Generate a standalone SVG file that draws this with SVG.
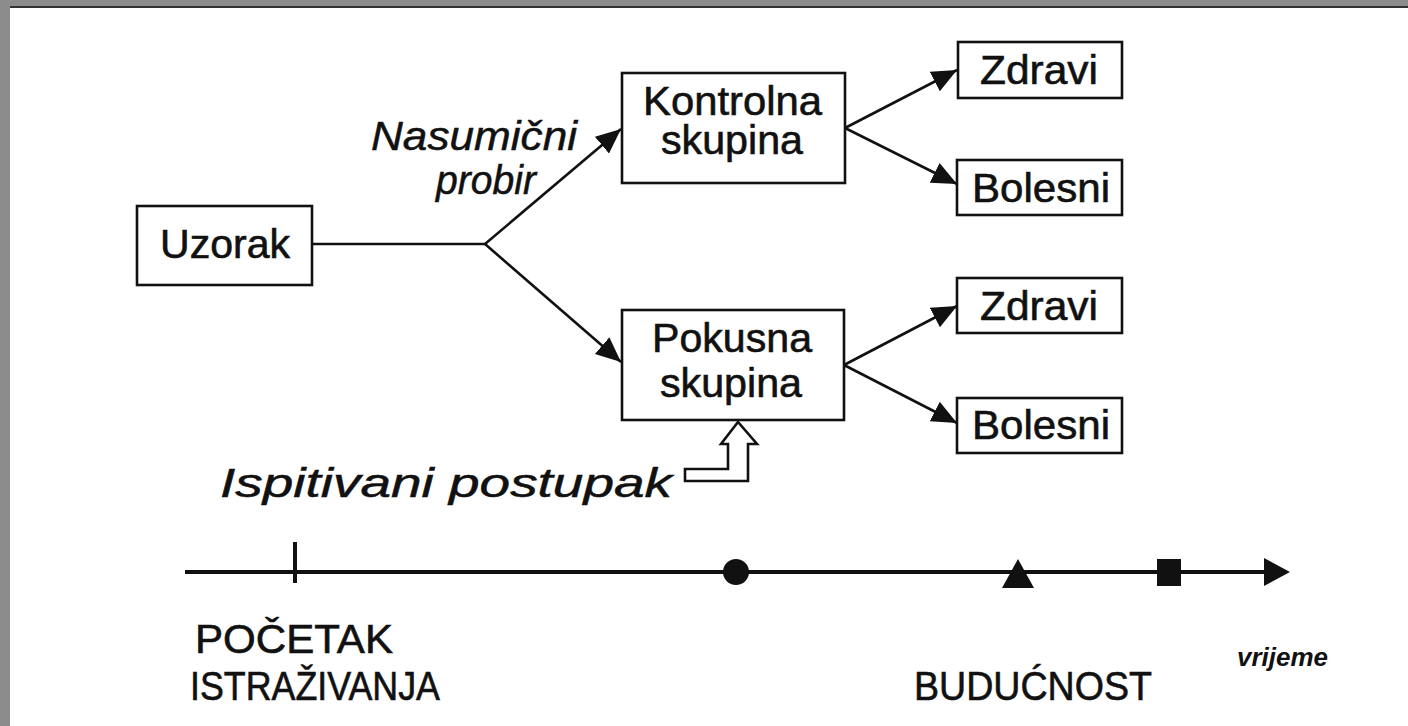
<svg xmlns="http://www.w3.org/2000/svg" width="1408" height="726" viewBox="0 0 1408 726">
  <style>
    .box { fill: #fff; stroke: #111; stroke-width: 2.6; }
    .lbl { font-family: "Liberation Sans", Arial, sans-serif; font-size: 40px; fill: #111; stroke: #111; stroke-width: 0.6; }
    .it { font-family: "Liberation Sans", Arial, sans-serif; font-size: 41px; font-style: italic; fill: #111; stroke: #111; stroke-width: 0.5; }
    .edge { fill: none; stroke: #111; stroke-width: 2.6; }
    .axis { fill: none; stroke: #111; stroke-width: 4; }
  </style>
  <defs>
    <marker id="head" markerUnits="userSpaceOnUse" markerWidth="28" markerHeight="24" refX="25" refY="11" orient="auto">
      <path d="M0,0 L25,11 L0,22 z" fill="#111"/>
    </marker>
  </defs>

  <!-- page background with scanned frame -->
  <rect x="0" y="0" width="1408" height="726" fill="#fff"/>
  <rect x="0" y="0" width="1408" height="6" fill="#8c8c8c"/>
  <rect x="0" y="0" width="10" height="726" fill="#8c8c8c"/>
  <line x1="10" y1="7" x2="1408" y2="7" stroke="#333" stroke-width="2"/>

  <!-- connectors -->
  <g id="connectors">
    <polyline class="edge" points="312,244 485,244"/>
    <line class="edge" x1="485" y1="244" x2="621" y2="129" marker-end="url(#head)"/>
    <line class="edge" x1="485" y1="244" x2="621" y2="362" marker-end="url(#head)"/>
    <line class="edge" x1="845" y1="128" x2="957" y2="70" marker-end="url(#head)"/>
    <line class="edge" x1="845" y1="128" x2="957" y2="184" marker-end="url(#head)"/>
    <line class="edge" x1="844" y1="365" x2="957" y2="306" marker-end="url(#head)"/>
    <line class="edge" x1="844" y1="365" x2="957" y2="423" marker-end="url(#head)"/>
    <!-- hollow bent arrow into Pokusna skupina -->
    <path class="edge" d="M685,469 L728,469 L728,444 L721,444 L738,422 L757,444 L748,444 L748,481 L685,481 Z"/>
  </g>

  <g id="uzorak">
    <rect class="box" x="137" y="206" width="175" height="79"/>
    <text class="lbl" x="160" y="258" textLength="130" lengthAdjust="spacingAndGlyphs">Uzorak</text>
  </g>

  <g id="random-label">
    <text class="it" x="371" y="150" textLength="206" lengthAdjust="spacingAndGlyphs">Nasumični</text>
    <text class="it" x="436" y="194" textLength="100" lengthAdjust="spacingAndGlyphs">probir</text>
  </g>

  <g id="kontrolna">
    <rect class="box" x="622" y="73" width="223" height="110"/>
    <text class="lbl" x="643" y="115" textLength="179" lengthAdjust="spacingAndGlyphs">Kontrolna</text>
    <text class="lbl" x="661" y="154" textLength="142" lengthAdjust="spacingAndGlyphs">skupina</text>
  </g>

  <g id="pokusna">
    <rect class="box" x="622" y="310" width="222" height="110"/>
    <text class="lbl" x="652" y="352" textLength="160" lengthAdjust="spacingAndGlyphs">Pokusna</text>
    <text class="lbl" x="660" y="397" textLength="142" lengthAdjust="spacingAndGlyphs">skupina</text>
  </g>

  <g id="zdravi-1">
    <rect class="box" x="958" y="42" width="164" height="56"/>
    <text class="lbl" x="980" y="84" textLength="118" lengthAdjust="spacingAndGlyphs">Zdravi</text>
  </g>
  <g id="bolesni-1">
    <rect class="box" x="957" y="160" width="165" height="55"/>
    <text class="lbl" x="972" y="202" textLength="138" lengthAdjust="spacingAndGlyphs">Bolesni</text>
  </g>
  <g id="zdravi-2">
    <rect class="box" x="957" y="278" width="165" height="55"/>
    <text class="lbl" x="980" y="320" textLength="118" lengthAdjust="spacingAndGlyphs">Zdravi</text>
  </g>
  <g id="bolesni-2">
    <rect class="box" x="957" y="398" width="165" height="55"/>
    <text class="lbl" x="972" y="439" textLength="138" lengthAdjust="spacingAndGlyphs">Bolesni</text>
  </g>

  <g id="procedure-label">
    <text class="it" x="220" y="497" font-size="43" textLength="452" lengthAdjust="spacingAndGlyphs">Ispitivani postupak</text>
  </g>

  <!-- time axis -->
  <g id="timeline">
    <line class="axis" x1="185" y1="572" x2="1268" y2="572"/>
    <polygon points="1264,558 1290,572 1264,586" fill="#111"/>
    <line class="axis" x1="295" y1="542" x2="295" y2="583"/>
    <circle cx="736" cy="572" r="13" fill="#111"/>
    <polygon points="1002,588 1018,559 1034,588" fill="#111"/>
    <rect x="1157" y="559" width="24" height="27" fill="#111"/>
  </g>

  <g id="axis-labels">
    <text class="lbl" x="195" y="653" textLength="198" lengthAdjust="spacingAndGlyphs">POČETAK</text>
    <text class="lbl" x="190" y="700" textLength="250" lengthAdjust="spacingAndGlyphs">ISTRAŽIVANJA</text>
    <text class="lbl" x="914" y="700" textLength="238" lengthAdjust="spacingAndGlyphs">BUDUĆNOST</text>
    <text x="1237" y="666" textLength="91" lengthAdjust="spacingAndGlyphs" style="font-family:'Liberation Sans', Arial, sans-serif; font-size:25px; font-style:italic; font-weight:bold; fill:#111">vrijeme</text>
  </g>
</svg>
